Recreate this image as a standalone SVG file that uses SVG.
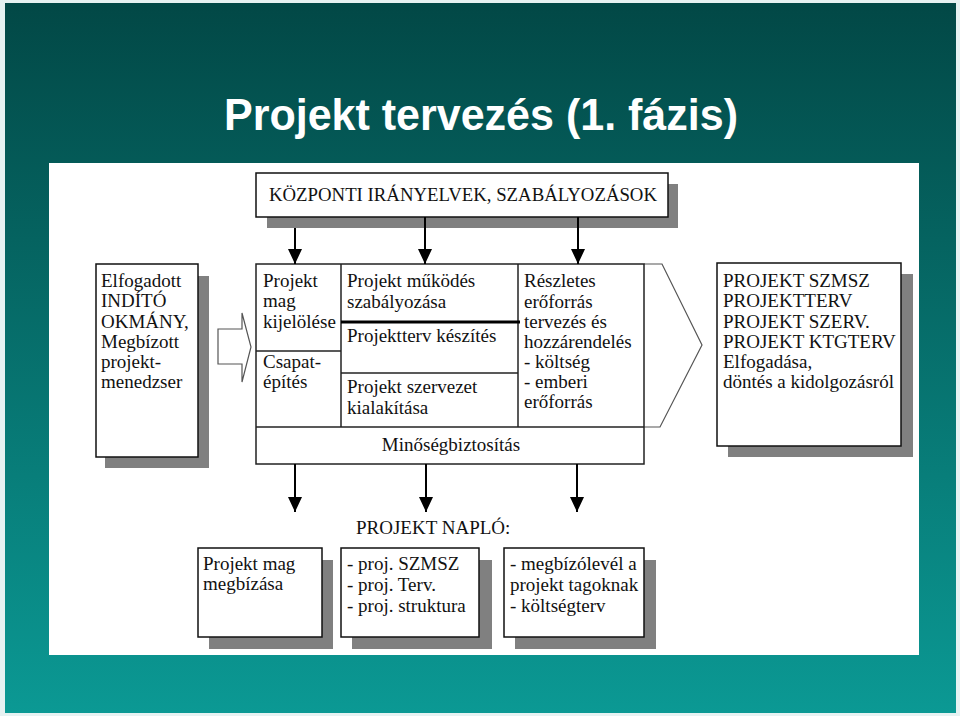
<svg xmlns="http://www.w3.org/2000/svg" width="960" height="716" viewBox="0 0 960 716">
<defs>
<linearGradient id="bg" x1="0" y1="0" x2="0" y2="1">
<stop offset="0" stop-color="#024846"/>
<stop offset="1" stop-color="#0b9994"/>
</linearGradient>
<marker id="ah" markerUnits="userSpaceOnUse" markerWidth="15" markerHeight="14" viewBox="0 0 15 14" refX="15" refY="7" orient="auto">
<path d="M0,0 L15,7 L0,14 z" fill="#000"/>
</marker>
<style>
.t{font-family:"Liberation Serif","Times New Roman",serif;font-size:19px;fill:#111}
.box{fill:#fff;stroke:#111;stroke-width:1.5}
.sh{fill:#808080}
.ln{stroke:#222;stroke-width:1.5;fill:none}
.cn{stroke:#000;stroke-width:2;fill:none;marker-end:url(#ah)}
</style>
</defs>
<rect x="0" y="0" width="960" height="716" fill="#e6f2f2"/>
<rect x="5" y="3" width="951" height="710" fill="url(#bg)"/>
<text x="224" y="130" font-family="'Liberation Sans',Arial,sans-serif" font-weight="bold" font-size="45" fill="#fff" textLength="514" lengthAdjust="spacingAndGlyphs">Projekt tervezés (1. fázis)</text>
<rect x="49" y="163" width="870" height="492" fill="#fff"/>

<g id="kozponti">
<rect class="sh" x="267" y="184" width="411" height="44"/>
<rect class="box" x="256" y="173" width="412" height="44"/>
<text class="t" x="269" y="201" textLength="388" lengthAdjust="spacingAndGlyphs">KÖZPONTI IRÁNYELVEK, SZABÁLYOZÁSOK</text>
</g>

<g id="indito">
<rect class="sh" x="105" y="276" width="104" height="192"/>
<rect class="box" x="96" y="264" width="102" height="193"/>
<text class="t" x="101" y="287">Elfogadott</text>
<text class="t" x="101" y="307">INDÍTÓ</text>
<text class="t" x="101" y="328">OKMÁNY,</text>
<text class="t" x="101" y="348">Megbízott</text>
<text class="t" x="101" y="368">projekt-</text>
<text class="t" x="101" y="388">menedzser</text>
</g>

<g id="block-arrow">
<path d="M218,329 L242,329 L242,313 L251,347 L242,382 L242,364 L218,364 Z" fill="#fff" stroke="#555" stroke-width="1.2"/>
</g>

<g id="fo-blokk">
<path d="M644,264 L662,264 L702,345 L660,427 L644,427" fill="#fff" stroke="#555" stroke-width="1.2"/>
<rect x="256" y="264" width="388" height="200" fill="#fff" stroke="#222" stroke-width="1.5"/>
<line class="ln" x1="341" y1="264" x2="341" y2="427"/>
<line class="ln" x1="518" y1="264" x2="518" y2="427"/>
<line class="ln" x1="256" y1="427" x2="644" y2="427"/>
<line class="ln" x1="256" y1="351" x2="341" y2="351"/>
<line x1="341" y1="322" x2="520" y2="322" stroke="#000" stroke-width="3"/>
<line class="ln" x1="341" y1="373" x2="518" y2="373"/>
<text class="t" x="263" y="287">Projekt</text>
<text class="t" x="263" y="307">mag</text>
<text class="t" x="263" y="328">kijelölése</text>
<text class="t" x="263" y="368">Csapat-</text>
<text class="t" x="263" y="388">építés</text>
<text class="t" x="347" y="287">Projekt működés</text>
<text class="t" x="347" y="308">szabályozása</text>
<text class="t" x="347" y="342">Projektterv készítés</text>
<text class="t" x="347" y="393">Projekt szervezet</text>
<text class="t" x="347" y="414">kialakítása</text>
<text class="t" x="524" y="287">Részletes</text>
<text class="t" x="524" y="308">erőforrás</text>
<text class="t" x="524" y="328">tervezés és</text>
<text class="t" x="524" y="348">hozzárendelés</text>
<text class="t" x="524" y="368">- költség</text>
<text class="t" x="524" y="388">- emberi</text>
<text class="t" x="524" y="408">erőforrás</text>
<text class="t" x="451" y="451" text-anchor="middle">Minőségbiztosítás</text>
</g>

<g id="eredmeny">
<rect class="sh" x="728" y="274" width="185" height="183"/>
<rect class="box" x="717" y="263" width="184" height="183"/>
<text class="t" x="723" y="287">PROJEKT SZMSZ</text>
<text class="t" x="723" y="307">PROJEKTTERV</text>
<text class="t" x="723" y="328">PROJEKT SZERV.</text>
<text class="t" x="723" y="348">PROJEKT KTGTERV</text>
<text class="t" x="723" y="368">Elfogadása,</text>
<text class="t" x="723" y="388">döntés a kidolgozásról</text>
</g>

<g id="naplo-cim">
<text class="t" x="356" y="534">PROJEKT NAPLÓ:</text>
</g>

<g id="naplo-1">
<rect class="sh" x="209" y="560" width="124" height="89"/>
<rect class="box" x="198" y="548" width="124" height="89"/>
<text class="t" x="203" y="570">Projekt mag</text>
<text class="t" x="203" y="590">megbízása</text>
</g>

<g id="naplo-2">
<rect class="sh" x="352" y="560" width="140" height="89"/>
<rect class="box" x="341" y="548" width="138" height="89"/>
<text class="t" x="347" y="570">- proj. SZMSZ</text>
<text class="t" x="347" y="591">- proj. Terv.</text>
<text class="t" x="347" y="612">- proj. struktura</text>
</g>

<g id="naplo-3">
<rect class="sh" x="515" y="560" width="141" height="89"/>
<rect class="box" x="504" y="548" width="140" height="89"/>
<text class="t" x="510" y="570">- megbízólevél a</text>
<text class="t" x="510" y="591">projekt tagoknak</text>
<text class="t" x="510" y="612">- költségterv</text>
</g>

<g id="connectors">
<line class="cn" x1="295" y1="228" x2="295" y2="264"/>
<line class="cn" x1="425" y1="217" x2="425" y2="264"/>
<line class="cn" x1="578" y1="217" x2="578" y2="264"/>
<line class="cn" x1="295" y1="464" x2="295" y2="512"/>
<line class="cn" x1="426" y1="464" x2="426" y2="512"/>
<line class="cn" x1="577" y1="464" x2="577" y2="512"/>
</g>
</svg>
